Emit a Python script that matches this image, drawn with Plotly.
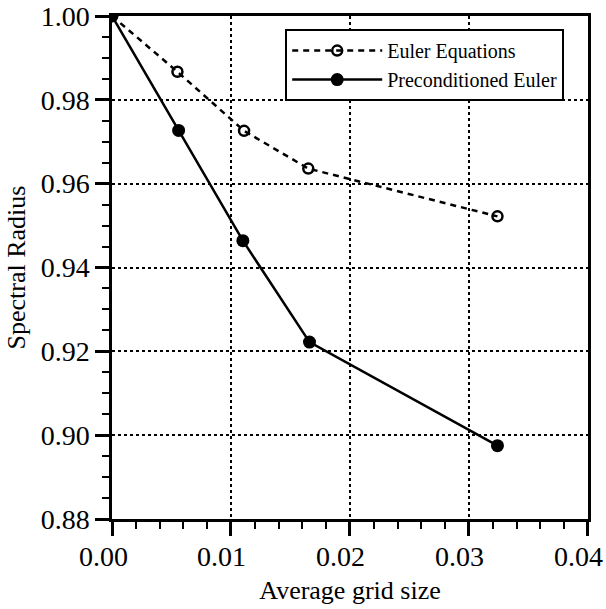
import plotly.graph_objects as go

grid_size_euler = [0.0, 0.0055, 0.0111, 0.0165, 0.0324]
radius_euler = [1.000, 0.9867, 0.9726, 0.9636, 0.9522]

grid_size_pre = [0.0, 0.0056, 0.0110, 0.0166, 0.0324]
radius_pre = [1.000, 0.9727, 0.9464, 0.9222, 0.8975]

x_ticks = [0.00, 0.01, 0.02, 0.03, 0.04]
x_tick_labels = ["0.00", "0.01", "0.02", "0.03", "0.04"]
y_ticks = [0.88, 0.90, 0.92, 0.94, 0.96, 0.98, 1.00]
y_tick_labels = ["0.88", "0.90", "0.92", "0.94", "0.96", "0.98", "1.00"]

FONT = "Liberation Serif"

fig = go.Figure()
fig.add_trace(go.Scatter(
    x=grid_size_euler, y=radius_euler, mode="lines+markers",
    name="Euler Equations",
    line=dict(color="black", width=2.5, dash="6px,5px"),
    marker=dict(symbol="circle-open", size=10, color="black", line=dict(width=2.5)),
))
fig.add_trace(go.Scatter(
    x=grid_size_pre, y=radius_pre, mode="lines+markers",
    name="Preconditioned Euler",
    line=dict(color="black", width=2.5),
    marker=dict(symbol="circle", size=13, color="black"),
))

axis_common = dict(
    showline=True, linecolor="black", linewidth=2.5, mirror=True,
    showgrid=True, gridcolor="black", gridwidth=1.5, griddash="dot",
    ticks="outside", ticklen=14, tickwidth=2.5, tickcolor="black",
    zeroline=False, automargin=False,
    tickfont=dict(family=FONT, size=28, color="black"),
)

fig.update_xaxes(
    range=[0, 0.04001], tickvals=x_ticks, showticklabels=False,
    title=dict(text="Average grid size", font=dict(family=FONT, size=26, color="black"), standoff=47),
    minor=dict(dtick=0.002, tick0=0, ticks="outside", ticklen=7, tickwidth=2, tickcolor="black", showgrid=False),
    **axis_common,
)
fig.update_yaxes(
    range=[0.88, 1.0], tickvals=y_ticks, ticktext=y_tick_labels,
    title=dict(text="Spectral Radius", font=dict(family=FONT, size=26, color="black"), standoff=8),
    minor=dict(dtick=0.005, tick0=0.88, ticks="outside", ticklen=7, tickwidth=2, tickcolor="black", showgrid=False),
    **axis_common,
)

# x tick labels as annotations (slightly left of their ticks, as in the reference)
for tv, tl in zip(x_ticks, x_tick_labels):
    fig.add_annotation(
        x=tv, y=0, xref="x", yref="paper", text=tl, showarrow=False,
        xanchor="center", yanchor="top", xshift=-9, yshift=-20,
        font=dict(family=FONT, size=28, color="black"),
    )

fig.update_layout(
    width=606, height=609,
    margin=dict(l=112, r=18, t=16, b=90),
    plot_bgcolor="white", paper_bgcolor="white",
    font=dict(family=FONT, color="black"),
    legend=dict(
        x=0.95, y=0.974, xanchor="right", yanchor="top",
        bgcolor="white", bordercolor="black", borderwidth=2,
        font=dict(family=FONT, size=20, color="black"),
        itemwidth=90, tracegroupgap=0,
    ),
)

fig.write_html(
    "out.html",
    config={"displayModeBar": False},
    post_script="document.body.style.margin='0';document.body.style.overflow='hidden';",
)
